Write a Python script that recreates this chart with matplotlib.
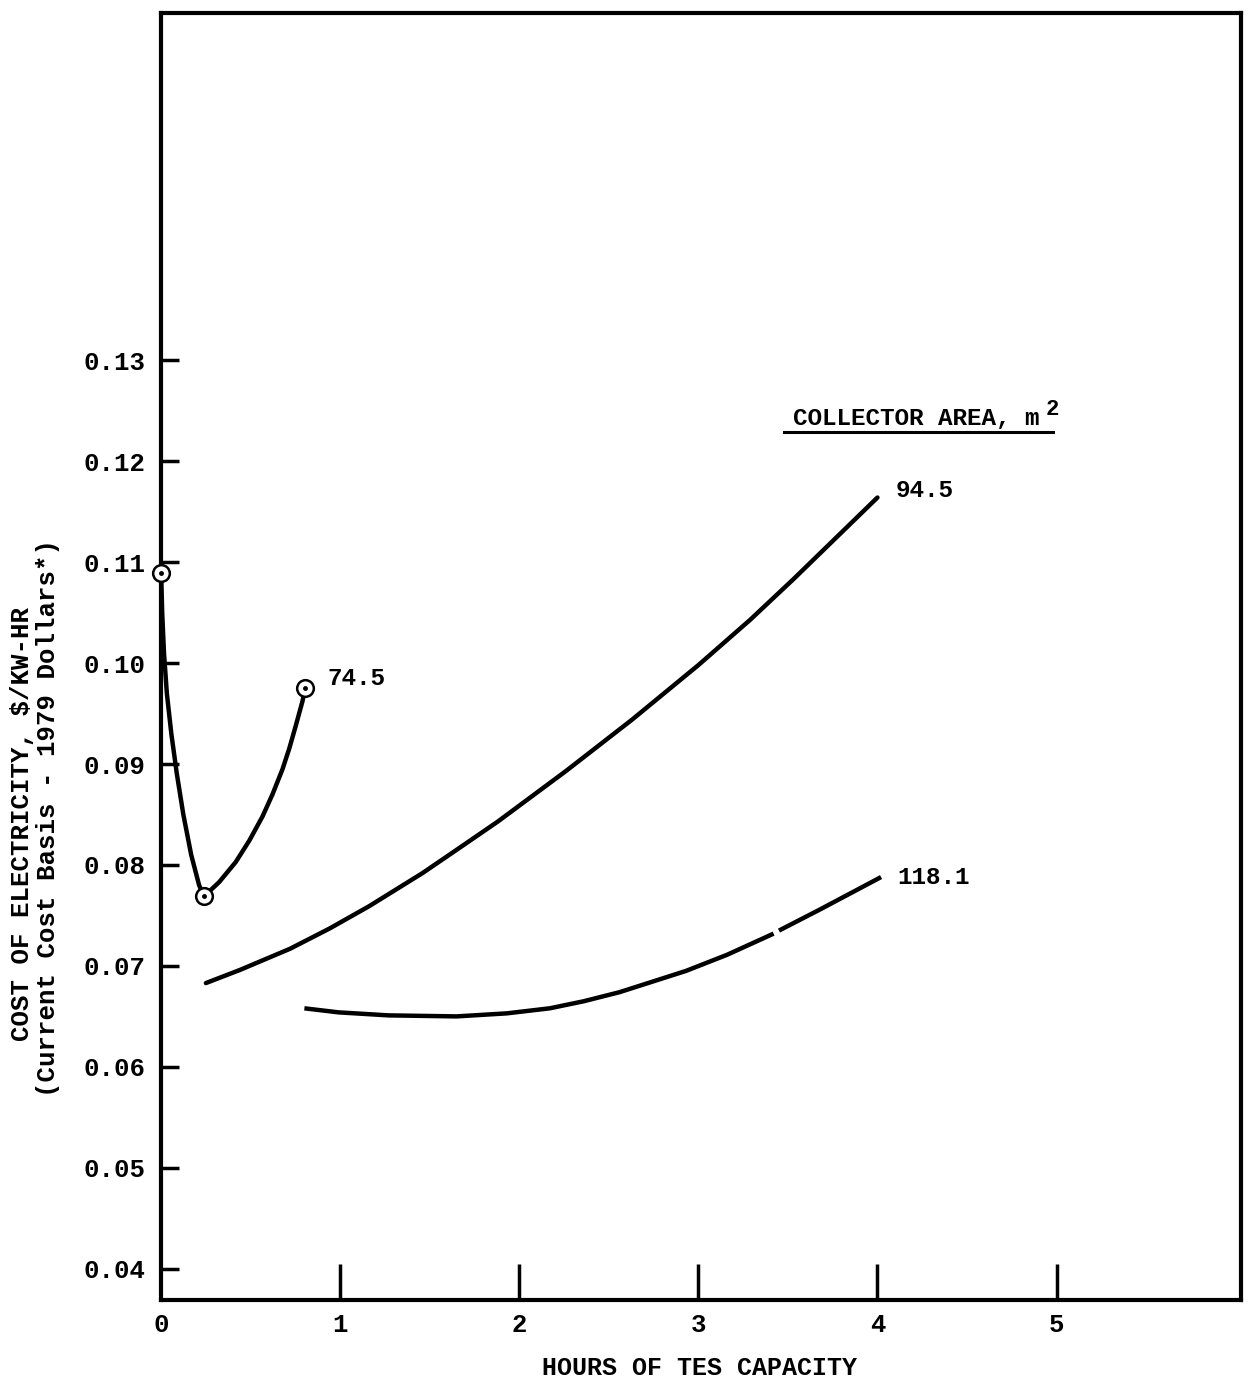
import matplotlib.pyplot as plt
from matplotlib.lines import Line2D

plt.rcParams['font.family'] = ['Liberation Mono', 'DejaVu Sans Mono']
plt.rcParams['font.weight'] = 'bold'

# collector area 74.5 m2 (calculated points circled)
x_745 = [0.0, 0.006, 0.016, 0.032, 0.057, 0.088, 0.124, 0.168, 0.212, 0.24,
         0.324, 0.417, 0.492, 0.566, 0.622, 0.678, 0.715, 0.752, 0.789, 0.804]
y_745 = [0.1089, 0.1050, 0.1010, 0.0970, 0.0930, 0.0890, 0.0850, 0.0810, 0.0780, 0.0769,
         0.0783, 0.0803, 0.0824, 0.0848, 0.0870, 0.0895, 0.0915, 0.0938, 0.0962, 0.0975]
pts_745_x = [0.0, 0.24, 0.804]
pts_745_y = [0.1089, 0.0769, 0.0975]

# collector area 94.5 m2
x_945 = [0.25, 0.44, 0.72, 0.94, 1.16, 1.46, 1.65, 1.88, 2.26, 2.63, 3.0, 3.29, 3.53, 4.0]
y_945 = [0.0683, 0.0696, 0.0717, 0.0737, 0.0759, 0.0792, 0.0815, 0.0843, 0.0893,
         0.0944, 0.0998, 0.1043, 0.1083, 0.1164]

# collector area 118.1 m2 (pen lifted briefly near 3.4 h)
x_1181 = [0.80, 0.99, 1.27, 1.65, 1.93, 2.17, 2.36, 2.56, 2.93, 3.16, 3.42, 3.45, 3.68, 4.02]
y_1181 = [0.0658, 0.0654, 0.0651, 0.0650, 0.0653, 0.0658, 0.0665, 0.0674, 0.0695,
          0.0711, 0.0732, 0.0735, 0.0756, 0.0788]
brk = 11

xticks = [0, 1, 2, 3, 4, 5]
yticks = [0.04, 0.05, 0.06, 0.07, 0.08, 0.09, 0.10, 0.11, 0.12, 0.13]

fig = plt.figure(figsize=(12.49, 13.82), dpi=100)
ax = fig.add_axes([0.129, 0.0593, 0.8646, 0.9313])

lw = 3.2
ax.plot(x_745, y_745, color='black', lw=lw, solid_capstyle='round',
        solid_joinstyle='round', zorder=2)
ax.plot(pts_745_x, pts_745_y, 'o', ms=12, mfc='white', mec='black', mew=1.8,
        zorder=3, clip_on=False)
ax.plot(pts_745_x, pts_745_y, 'o', ms=2.5, color='black', zorder=4, clip_on=False)

ax.plot(x_945, y_945, color='black', lw=lw, solid_capstyle='round', solid_joinstyle='round')
ax.plot(x_1181[:brk], y_1181[:brk], color='black', lw=lw, solid_capstyle='butt',
        solid_joinstyle='round')
ax.plot(x_1181[brk:], y_1181[brk:], color='black', lw=lw, solid_capstyle='butt',
        solid_joinstyle='round')

# curve labels
ax.text(0.927, 0.0985, '74.5', fontsize=17.5, va='center', ha='left')
ax.text(4.10, 0.1171, '94.5', fontsize=17.5, va='center', ha='left')
ax.text(4.11, 0.0788, '118.1', fontsize=17.5, va='center', ha='left')

ax.text(3.53, 0.1242, 'COLLECTOR AREA, m', fontsize=17.5, va='center', ha='left')
ax.text(4.94, 0.1251, '2', fontsize=16, va='center', ha='left')
fig.add_artist(Line2D([784 / 1249, 1053 / 1249], [1 - 432 / 1382, 1 - 432 / 1382],
                      color='black', lw=2.2))

ax.set_xlim(0, 6.03)
ax.set_ylim(0.0369, 0.1644)
ax.set_xticks(xticks)
ax.set_xticklabels([str(t) for t in xticks])
ax.set_yticks(yticks)
ax.set_yticklabels([f'{t:.2f}' for t in yticks])

ax.tick_params(axis='x', direction='in', length=26, width=2.5, pad=9, labelsize=18.5)
ax.tick_params(axis='y', direction='in', length=13, width=2.5, pad=11, labelsize=18.5)
ax.xaxis.get_major_ticks()[0].tick1line.set_visible(False)
for s in ax.spines.values():
    s.set_linewidth(3)

fig.text(0.56, 1 - 1368 / 1382, 'HOURS OF TES CAPACITY', fontsize=18,
         ha='center', va='center')
fig.text(22 / 1249, 1 - 824 / 1382, 'COST OF ELECTRICITY, $/KW-HR', fontsize=18.5,
         rotation=90, ha='center', va='center')
fig.text(48 / 1249, 1 - 818 / 1382, '(Current Cost Basis - 1979 Dollars*)', fontsize=18.5,
         rotation=90, ha='center', va='center')

fig.savefig('out.png', dpi=100)
